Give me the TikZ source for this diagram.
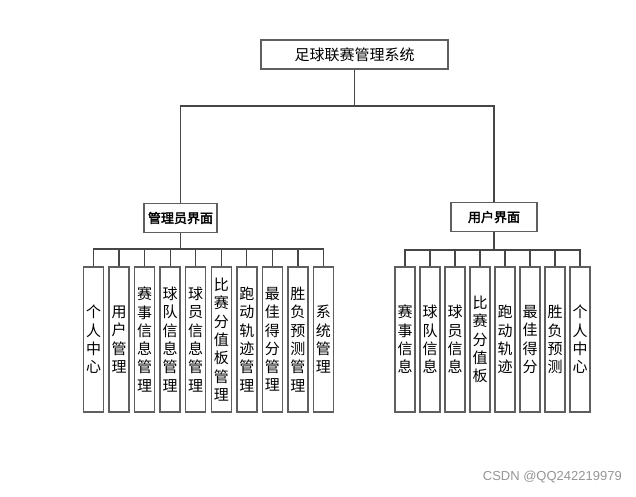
\documentclass[tikz,border=0pt]{standalone}
\usepackage{fontspec}
\newfontfamily\cjk{Noto Sans CJK SC}
\newfontfamily\cjkb[FakeBold=2.5]{Noto Sans CJK SC}
\setsansfont{Liberation Sans}
\definecolor{boxgray}{RGB}{95,95,95}
\definecolor{linegray}{RGB}{70,70,70}
\definecolor{wmgray}{RGB}{150,150,150}
\tikzset{
  box/.style={draw=boxgray, line width=1.5pt, fill=white, inner sep=0pt, text=black},
  titlebox/.style={box, minimum width=187pt, minimum height=29pt, font=\cjk\fontsize{15}{18}\selectfont},
  midbox/.style={box, minimum height=29pt, font=\cjkb\fontsize{13}{16}\selectfont},
  leaf/.style={box, minimum width=20pt, minimum height=145pt, align=center, font=\cjk\fontsize{15}{18.3}\selectfont},
  conn/.style={draw=linegray, line width=1.3pt}
}
\begin{document}
\begin{tikzpicture}[x=1pt,y=-1pt]
\useasboundingbox[fill=white] (0,0) rectangle (636,496);
\node[titlebox] (top) at (354.5,54.5) {足球联赛管理系统};
\node[midbox, minimum width=73pt] (admin) at (180.5,218) {管理员界面};
\node[midbox, minimum width=86pt] (user) at (494,217) {用户界面};
% admin leaves
\foreach \i/\t in {0/{个\\人\\中\\心},1/{用\\户\\管\\理},2/{赛\\事\\信\\息\\管\\理},3/{球\\队\\信\\息\\管\\理},4/{球\\员\\信\\息\\管\\理},5/{比\\赛\\分\\值\\板\\管\\理},6/{跑\\动\\轨\\迹\\管\\理},7/{最\\佳\\得\\分\\管\\理},8/{胜\\负\\预\\测\\管\\理},9/{系\\统\\管\\理}}{
  \node[leaf] (a\i) at ({93.5+25.55*\i},339.5) {\t};
}
\foreach \i/\t in {0/{赛\\事\\信\\息},1/{球\\队\\信\\息},2/{球\\员\\信\\息},3/{比\\赛\\分\\值\\板},4/{跑\\动\\轨\\迹},5/{最\\佳\\得\\分},6/{胜\\负\\预\\测},7/{个\\人\\中\\心}}{
  \node[leaf] (u\i) at ({405+25*\i},339.5) {\t};
}
\coordinate (mainbus) at (354.5,106);
\draw[conn] (top.south) -- (top.south |- mainbus) -| (admin.north);
\draw[conn] (top.south |- mainbus) -| (user.north);
\foreach \i in {0,...,9}{
  \draw[conn] (admin.south) -- (admin.south |- 0,249) -| (a\i.north);
}
\foreach \i in {0,...,7}{
  \draw[conn] (user.south) -- (user.south |- 0,250) -| (u\i.north);
}
\node[font=\sffamily\fontsize{13}{15}\selectfont, text=wmgray, anchor=east, inner sep=0pt] (wm) at (622,477) {CSDN @QQ242219979};
\end{tikzpicture}
\end{document}
